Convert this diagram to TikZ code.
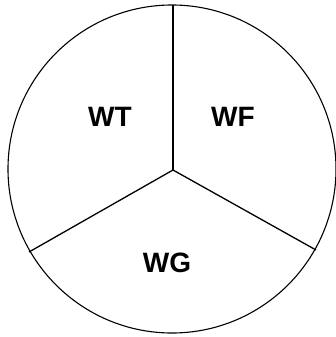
\documentclass[tikz,border=0pt]{standalone}
\usepackage{fontspec}
\setmainfont{Liberation Sans}
\begin{document}
\begin{tikzpicture}[x=1pt,y=-1pt,
  edge/.style={line width=1.3pt,black},
  lbl/.style={font=\fontsize{28}{30}\selectfont\bfseries,inner sep=0pt}]
\useasboundingbox (0,0) rectangle (336,337);
\coordinate (c) at (172,169);
\coordinate (o) at (173,170);
\draw[line width=1.1pt] (c) circle (164);
\coordinate (t) at (173,5);
\coordinate (l) at (29,252);
\coordinate (r) at (316,250);
\draw[edge] (o) -- (t);
\draw[edge] (o) -- (l);
\draw[edge] (o) -- (r);
\node[lbl] (wt) at (110,117) {WT};
\node[lbl] (wf) at (233,117) {WF};
\node[lbl] (wg) at (167,263) {WG};
\end{tikzpicture}
\end{document}
